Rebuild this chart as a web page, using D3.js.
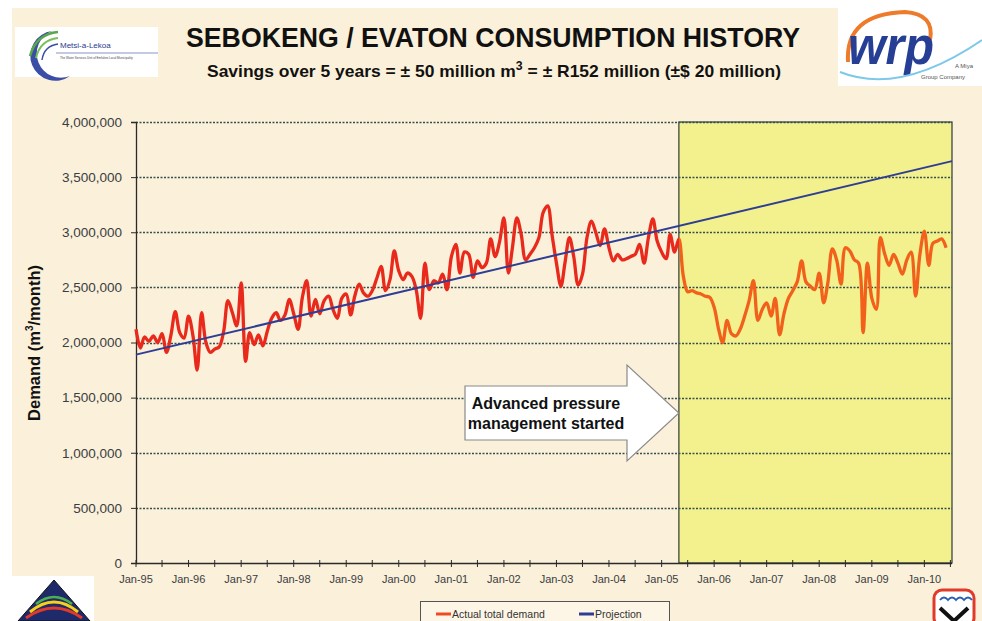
<!DOCTYPE html>
<html><head><meta charset="utf-8">
<script src="https://cdn.jsdelivr.net/npm/d3@7"></script>
<style>body{margin:0;background:#fff}svg{display:block}</style>
</head><body>
<svg id="c" width="982" height="621"></svg>
<script>
// ---------------- data ----------------
const firstMonth = "1995-01-01";
// Actual total demand, m3/month, monthly from Jan-95
const demand = [
2120000,1950000,2050000,2010000,2060000,2000000,2080000,1910000,2070000,2280000,2090000,2040000,
2240000,2060000,1750000,2270000,2000000,1910000,1940000,1960000,2100000,2380000,2270000,2150000,
2540000,1830000,2090000,1980000,2070000,1970000,2100000,2220000,2270000,2200000,2250000,2390000,
2260000,2120000,2400000,2560000,2240000,2390000,2260000,2380000,2420000,2300000,2220000,2400000,
2440000,2250000,2420000,2530000,2450000,2420000,2470000,2580000,2690000,2470000,2570000,2830000,
2650000,2570000,2630000,2600000,2480000,2220000,2720000,2480000,2560000,2540000,2620000,2480000,
2780000,2890000,2630000,2820000,2800000,2590000,2740000,2680000,2720000,2940000,2780000,2910000,
3130000,2630000,2860000,3130000,2980000,2750000,2800000,2860000,2950000,3180000,3240000,2980000,
2720000,2510000,2720000,2950000,2780000,2520000,2620000,2950000,3100000,3000000,2880000,3030000,
2860000,2740000,2800000,2750000,2760000,2780000,2800000,2890000,2720000,2950000,3120000,2920000,
2820000,2760000,2980000,2820000,2940000,2600000,2460000,2470000,2450000,2440000,2420000,2410000,
2320000,2120000,2000000,2200000,2080000,2060000,2120000,2240000,2380000,2560000,2200000,2300000,
2360000,2240000,2400000,2070000,2260000,2400000,2470000,2550000,2740000,2550000,2510000,2480000,
2630000,2360000,2540000,2850000,2750000,2530000,2860000,2830000,2750000,2720000,2090000,2720000,
2400000,2300000,2950000,2800000,2700000,2800000,2720000,2620000,2750000,2820000,2420000,2800000,
3010000,2700000,2900000,2920000,2940000,2860000
];
const projectionDates = ["1995-01-01", "2010-07-12"];
const projectionValues = [1890000, 3645000];
const axisEnd = "2010-07-12";
const pressureMgmtStart = "2005-05-01";
const yTicks = [0, 500000, 1000000, 1500000, 2000000, 2500000, 3000000, 3500000, 4000000];
const xLabelYears = [1995,1996,1997,1998,1999,2000,2001,2002,2003,2004,2005,2006,2007,2008,2009,2010];
const seriesNames = ["Actual total demand", "Projection"];
const title = "SEBOKENG / EVATON CONSUMPTION HISTORY";
const arrowText = ["Advanced pressure", "management started"];

// ---------------- layout ----------------
const svg = d3.select("#c");
const W = 982, H = 621;
const M = {l: 136, r: 952, t: 122, b: 563};
const FONT = "'Liberation Sans', Arial, sans-serif";
const parse = d3.timeParse("%Y-%m-%d");
const t0 = parse(firstMonth);
const dates = demand.map((d, i) => d3.timeMonth.offset(t0, i));

const x = d3.scaleTime().domain([t0, parse(axisEnd)]).range([M.l, M.r]);
const y = d3.scaleLinear().domain([0, 4000000]).range([M.b, M.t]);

// background
svg.append("rect").attr("width", W).attr("height", H).attr("fill", "#ffffff");
svg.append("rect").attr("x", 12).attr("y", 8).attr("width", W - 12).attr("height", H - 8).attr("fill", "#fbf0d9");

// shaded region
const xs = x(parse(pressureMgmtStart));
svg.append("rect").attr("x", xs).attr("y", M.t).attr("width", M.r - xs).attr("height", M.b - M.t)
  .attr("fill", "#f3f08e").attr("stroke", "#2c3a36").attr("stroke-width", 1.2);

// gridlines
svg.append("g").selectAll("line").data(yTicks.filter(v => v > 0)).join("line")
  .attr("x1", M.l).attr("x2", M.r).attr("y1", d => Math.round(y(d)) + 0.5).attr("y2", d => Math.round(y(d)) + 0.5)
  .attr("stroke", "#34504e").attr("stroke-width", 1.3).attr("stroke-dasharray", "2,1.5");

// y axis
const yAxis = d3.axisLeft(y).tickValues(yTicks).tickSize(5).tickFormat(d3.format(","));
const gy = svg.append("g").attr("transform", `translate(${M.l},0)`).call(yAxis);
gy.select(".domain").attr("stroke", "#2a2a2a").attr("stroke-width", 1.3);
gy.selectAll(".tick line").attr("stroke", "#2a2a2a");
gy.selectAll("text").attr("font-family", FONT).attr("font-size", 13.5).attr("fill", "#3a3d42").attr("x", -14);

// x axis: ticks every 6 months, labels every January
const tickDates = d3.timeMonth.every(6).range(t0, parse(axisEnd));
const gx = svg.append("g");
gx.append("line").attr("x1", M.l).attr("x2", M.r).attr("y1", M.b + 0.5).attr("y2", M.b + 0.5)
  .attr("stroke", "#2a2a2a").attr("stroke-width", 1.3);
gx.selectAll("line.tk").data(tickDates).join("line").attr("class", "tk")
  .attr("x1", d => x(d)).attr("x2", d => x(d)).attr("y1", M.b - 3).attr("y2", M.b + 4)
  .attr("stroke", "#2a2a2a");
gx.selectAll("text").data(xLabelYears).join("text")
  .attr("x", d => x(new Date(d, 0, 1))).attr("y", M.b + 20)
  .attr("text-anchor", "middle").attr("font-family", FONT).attr("font-size", 11).attr("fill", "#3a3d42")
  .text(d => d3.timeFormat("Jan-%y")(new Date(d, 0, 1)));

// y axis title
const yt = svg.append("text").attr("transform", "translate(40,343) rotate(-90)")
  .attr("text-anchor", "middle").attr("font-family", FONT).attr("font-weight", "bold").attr("font-size", 16.5).attr("fill", "#111");
yt.append("tspan").text("Demand (m");
yt.append("tspan").attr("font-size", 10).attr("dy", -7).text("3");
yt.append("tspan").attr("dy", 7).text("/month)");

// lines
const defs = svg.append("defs");
defs.append("clipPath").attr("id", "cl").append("rect").attr("x", 0).attr("y", 0).attr("width", xs).attr("height", H);
defs.append("clipPath").attr("id", "cr").append("rect").attr("x", xs).attr("y", 0).attr("width", W - xs).attr("height", H);

const line = d3.line().x((d, i) => x(dates[i])).y(d => y(d)).curve(d3.curveCatmullRom.alpha(0.5));
svg.append("path").datum(demand).attr("d", line).attr("fill", "none")
  .attr("stroke", "#e8291c").attr("stroke-width", 3.3).attr("stroke-linejoin", "round").attr("clip-path", "url(#cl)");
svg.append("path").datum(demand).attr("d", line).attr("fill", "none")
  .attr("stroke", "#f2611c").attr("stroke-width", 3.3).attr("stroke-linejoin", "round").attr("clip-path", "url(#cr)");

const pline = d3.line().x((d, i) => x(parse(projectionDates[i]))).y(d => y(d));
svg.append("path").datum(projectionValues).attr("d", pline).attr("fill", "none")
  .attr("stroke", "#2d3e94").attr("stroke-width", 2);

// arrow annotation
const ax0 = 465, ax1 = 627, ax2 = xs, ay = 413;
svg.append("path")
  .attr("d", `M${ax0},386 L${ax1},386 L${ax1},365 L${ax2},${ay} L${ax1},461 L${ax1},440 L${ax0},440 Z`)
  .attr("fill", "#ffffff").attr("stroke", "#8a8a8a").attr("stroke-width", 1.2);
svg.append("g").selectAll("text").data(arrowText).join("text")
  .attr("x", 546).attr("y", (d, i) => 409 + i * 20).attr("text-anchor", "middle")
  .attr("font-family", FONT).attr("font-weight", "bold").attr("font-size", 16).attr("fill", "#111")
  .text(d => d);

// title
svg.append("text").attr("x", 493).attr("y", 47).attr("text-anchor", "middle")
  .attr("font-family", FONT).attr("font-weight", "bold").attr("font-size", 27).attr("fill", "#111")
  .attr("textLength", 614).attr("lengthAdjust", "spacingAndGlyphs").text(title);
const st = svg.append("text").attr("x", 207).attr("y", 77)
  .attr("font-family", FONT).attr("font-weight", "bold").attr("font-size", 17).attr("fill", "#111")
  .attr("textLength", 574).attr("lengthAdjust", "spacingAndGlyphs");
st.append("tspan").text("Savings over 5 years = ± 50 million m");
st.append("tspan").attr("font-size", 12).attr("dy", -7).text("3");
st.append("tspan").attr("dy", 7).text(" = ± R152 million (±$ 20 million)");

// legend
const lg = svg.append("g");
lg.append("rect").attr("x", 420.5).attr("y", 601.5).attr("width", 249).attr("height", 30)
  .attr("fill", "#fdf6e6").attr("stroke", "#555");
const lgItems = [{name: seriesNames[0], color: "#ee4a26", x: 436}, {name: seriesNames[1], color: "#2d3e94", x: 579}];
lg.selectAll("line").data(lgItems).join("line")
  .attr("x1", d => d.x).attr("x2", d => d.x + 15).attr("y1", 614).attr("y2", 614)
  .attr("stroke", d => d.color).attr("stroke-width", 3);
lg.selectAll("text").data(lgItems).join("text")
  .attr("x", d => d.x + 16).attr("y", 618).attr("font-family", FONT).attr("font-size", 10.5).attr("fill", "#333")
  .text(d => d.name);

// logos (decorative)
const lo = svg.append("g");
lo.append("rect").attr("x", 15).attr("y", 27).attr("width", 143).attr("height", 50).attr("fill", "#fff");
lo.append("path").attr("d", "M52,31 A25,25 0 1,0 70,76 A21,21 0 1,1 52,31 Z").attr("fill", "#3b4ea6");
lo.append("path").attr("d", "M30,56 Q36,34 58,32").attr("fill", "none").attr("stroke", "#5aa64a").attr("stroke-width", 2.5);
lo.append("path").attr("d", "M36,58 Q40,40 58,38").attr("fill", "none").attr("stroke", "#7bbf5a").attr("stroke-width", 2);
lo.append("path").attr("d", "M42,60 Q44,46 58,44").attr("fill", "none").attr("stroke", "#3b4ea6").attr("stroke-width", 1.5);
lo.append("text").attr("x", 60).attr("y", 48).attr("font-family", FONT).attr("font-size", 8).attr("fill", "#2a3b8f").text("Metsi-a-Lekoa");
lo.append("line").attr("x1", 56).attr("x2", 158).attr("y1", 53).attr("y2", 53).attr("stroke", "#3b4ea6").attr("stroke-width", 0.6);
lo.append("text").attr("x", 60).attr("y", 59).attr("font-family", FONT).attr("font-size", 3).attr("fill", "#444")
  .text("The Water Services Unit of Emfuleni Local Municipality");

lo.append("rect").attr("x", 838).attr("y", 8).attr("width", 144).attr("height", 78).attr("fill", "#fff");
lo.append("path").attr("d", "M848,62 Q845,14 905,12 Q935,14 930,40").attr("fill", "none").attr("stroke", "#ee7a2a").attr("stroke-width", 4);
lo.append("text").attr("x", 848).attr("y", 64).attr("font-family", FONT).attr("font-weight", "bold").attr("font-style", "italic")
  .attr("font-size", 54).attr("fill", "#263f94").attr("textLength", 86).attr("lengthAdjust", "spacingAndGlyphs").text("wrp");
lo.append("path").attr("d", "M840,72 Q900,96 982,40").attr("fill", "none").attr("stroke", "#7ec8ea").attr("stroke-width", 2);
lo.append("text").attr("x", 955).attr("y", 68).attr("font-family", FONT).attr("font-size", 6).attr("fill", "#555").text("A Miya");
lo.append("text").attr("x", 921).attr("y", 79).attr("font-family", FONT).attr("font-size", 6).attr("fill", "#555").text("Group Company");

lo.append("rect").attr("x", 12).attr("y", 576).attr("width", 82).attr("height", 45).attr("fill", "#fff");
lo.append("path").attr("d", "M18,621 L54,580 L90,621 Z").attr("fill", "#1f2a6b").attr("stroke", "#111");
lo.append("path").attr("d", "M30,612 Q54,592 78,612").attr("fill", "none").attr("stroke", "#f4d11a").attr("stroke-width", 3);
lo.append("path").attr("d", "M26,618 Q54,598 82,618").attr("fill", "none").attr("stroke", "#e03a2a").attr("stroke-width", 3);
lo.append("path").attr("d", "M36,604 Q54,590 72,604").attr("fill", "none").attr("stroke", "#4caf50").attr("stroke-width", 2.5);

lo.append("rect").attr("x", 934).attr("y", 590).attr("width", 40).attr("height", 36).attr("rx", 8)
  .attr("fill", "#fff").attr("stroke", "#e03a2a").attr("stroke-width", 3);
lo.append("path").attr("d", "M940,600 q4,-5 8,0 q4,-5 8,0 q4,-5 8,0 q4,-5 8,0").attr("fill", "none").attr("stroke", "#2d5fb5").attr("stroke-width", 2);
lo.append("path").attr("d", "M940,608 L954,621 L968,608").attr("fill", "none").attr("stroke", "#111").attr("stroke-width", 4);
</script>
</body></html>
